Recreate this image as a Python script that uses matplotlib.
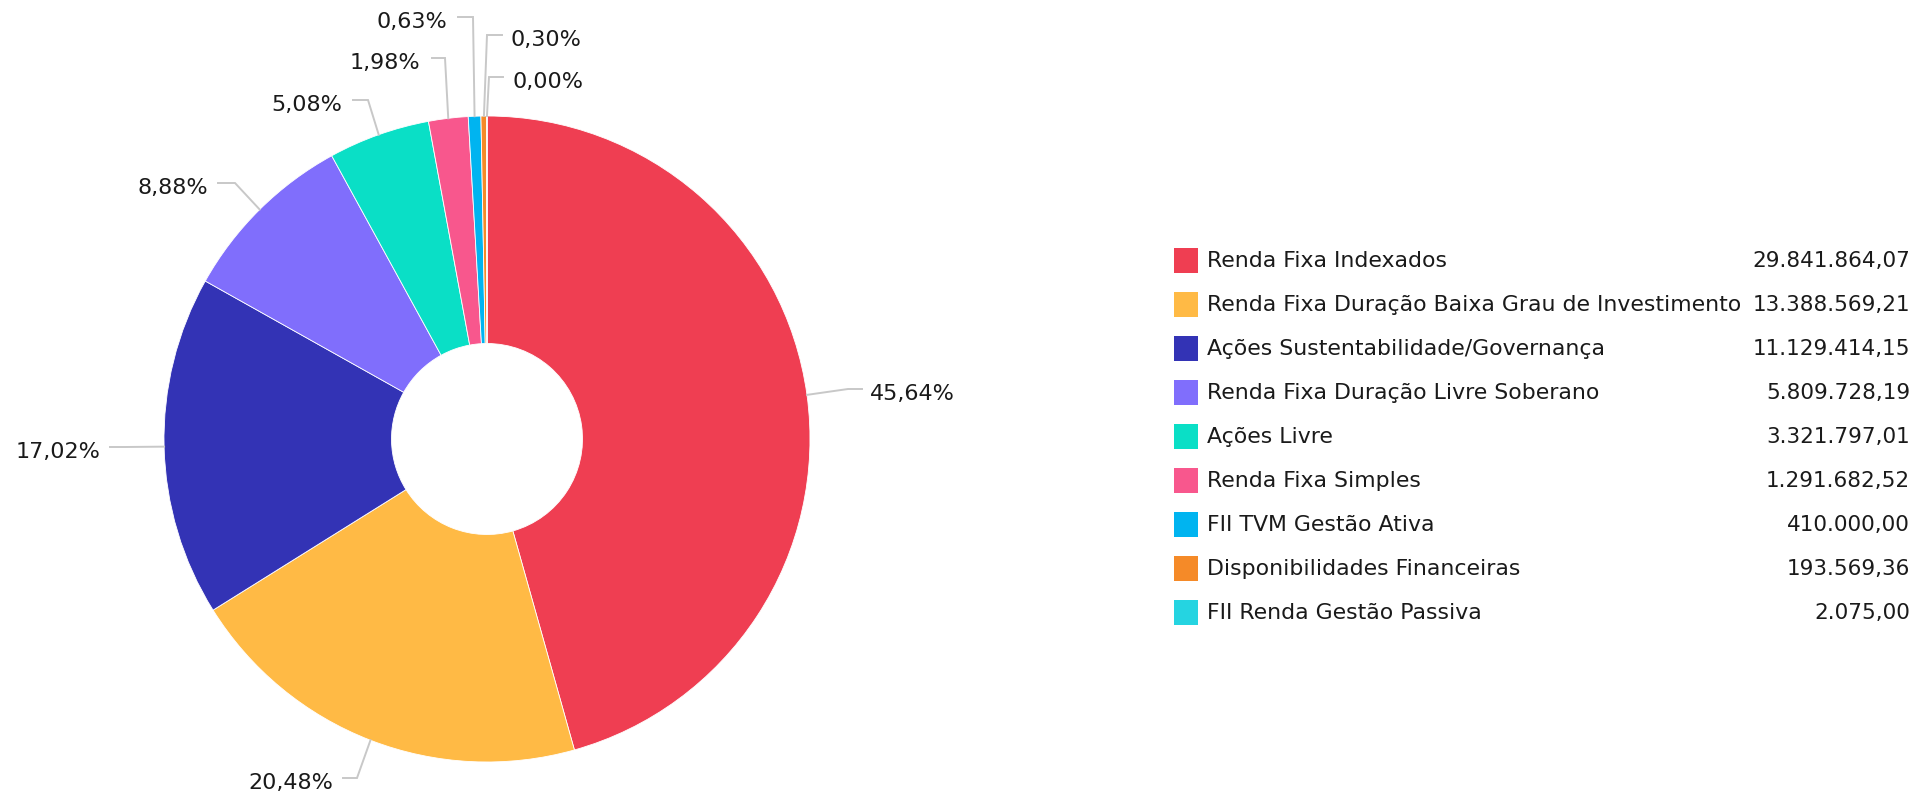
import matplotlib
matplotlib.use("Agg")
import matplotlib.pyplot as plt
from matplotlib.patches import Rectangle
import numpy as np

categories = [
    "Renda Fixa Indexados",
    "Renda Fixa Duração Baixa Grau de Investimento",
    "Ações Sustentabilidade/Governança",
    "Renda Fixa Duração Livre Soberano",
    "Ações Livre",
    "Renda Fixa Simples",
    "FII TVM Gestão Ativa",
    "Disponibilidades Financeiras",
    "FII Renda Gestão Passiva",
]
values = [29841864.07, 13388569.21, 11129414.15, 5809728.19, 3321797.01,
          1291682.52, 410000.00, 193569.36, 2075.00]
colors = ["#EF3E52", "#FFBA45", "#3333B5", "#806EFC", "#0ADFC6",
          "#F8578D", "#00B4F0", "#F58A28", "#25D4E1"]

W, H = 1921, 793
fig = plt.figure(figsize=(W / 100, H / 100), dpi=100)
ax = fig.add_axes([0, 0, 1, 1])

cx, cy, R, r_in = 487, 439, 323, 95.5

wedges, _ = ax.pie(values, colors=colors, startangle=-90, counterclock=True,
                   center=(cx, cy), radius=R,
                   wedgeprops=dict(width=R - r_in, edgecolor="white", linewidth=0.6))
ax.set_xlim(0, W)
ax.set_ylim(H, 0)
ax.set_aspect("auto")
ax.axis("off")

def fmt_pct(p):
    return f"{p:.2f}".replace(".", ",") + "%"

def fmt_val(v):
    s = f"{v:,.2f}"
    return s.replace(",", "X").replace(".", ",").replace("X", ".")

total = sum(values)
# label layout: (elbow_x, line_y, line_end_x, text_x, ha)
layout = [
    (848, 389, 862, 870, "left"),
    (357, 778, 343, 333, "right"),
    (125, 447, 110, 100, "right"),
    (235, 183, 218, 208, "right"),
    (368, 100, 353, 342, "right"),
    (445, 58, 432, 420, "right"),
    (473, 17, 458, 447, "right"),
    (487, 35, 502, 510, "left"),
    (489, 77, 503, 512, "left"),
]
label_fs = 16
for w, v, (ex, ly, lx, tx, ha) in zip(wedges, values, layout):
    mid = np.deg2rad((w.theta1 + w.theta2) / 2)
    px, py = cx + R * np.cos(mid), cy + R * np.sin(mid)
    ax.plot([px, ex, lx], [py, ly, ly], color="#C8C8C8", lw=1.4,
            solid_joinstyle="miter", zorder=1)
    ax.text(tx, ly + 5, fmt_pct(100 * v / total), ha=ha, va="center",
            fontsize=label_fs, color="#1a1a1a", family="DejaVu Sans")

# legend
leg_y0, leg_dy = 260, 44
for i, (c, name, v) in enumerate(zip(colors, categories, values)):
    y = leg_y0 + i * leg_dy
    ax.add_patch(Rectangle((1174, y - 12.5), 24, 25, facecolor=c, edgecolor="none"))
    ax.text(1207, y + 1, name, ha="left", va="center", fontsize=15.8,
            color="#1a1a1a", family="DejaVu Sans")
    ax.text(1910, y + 1, fmt_val(v), ha="right", va="center", fontsize=15.5,
            color="#1a1a1a", family="DejaVu Sans")

fig.savefig("out.png", dpi=100, facecolor="white")
